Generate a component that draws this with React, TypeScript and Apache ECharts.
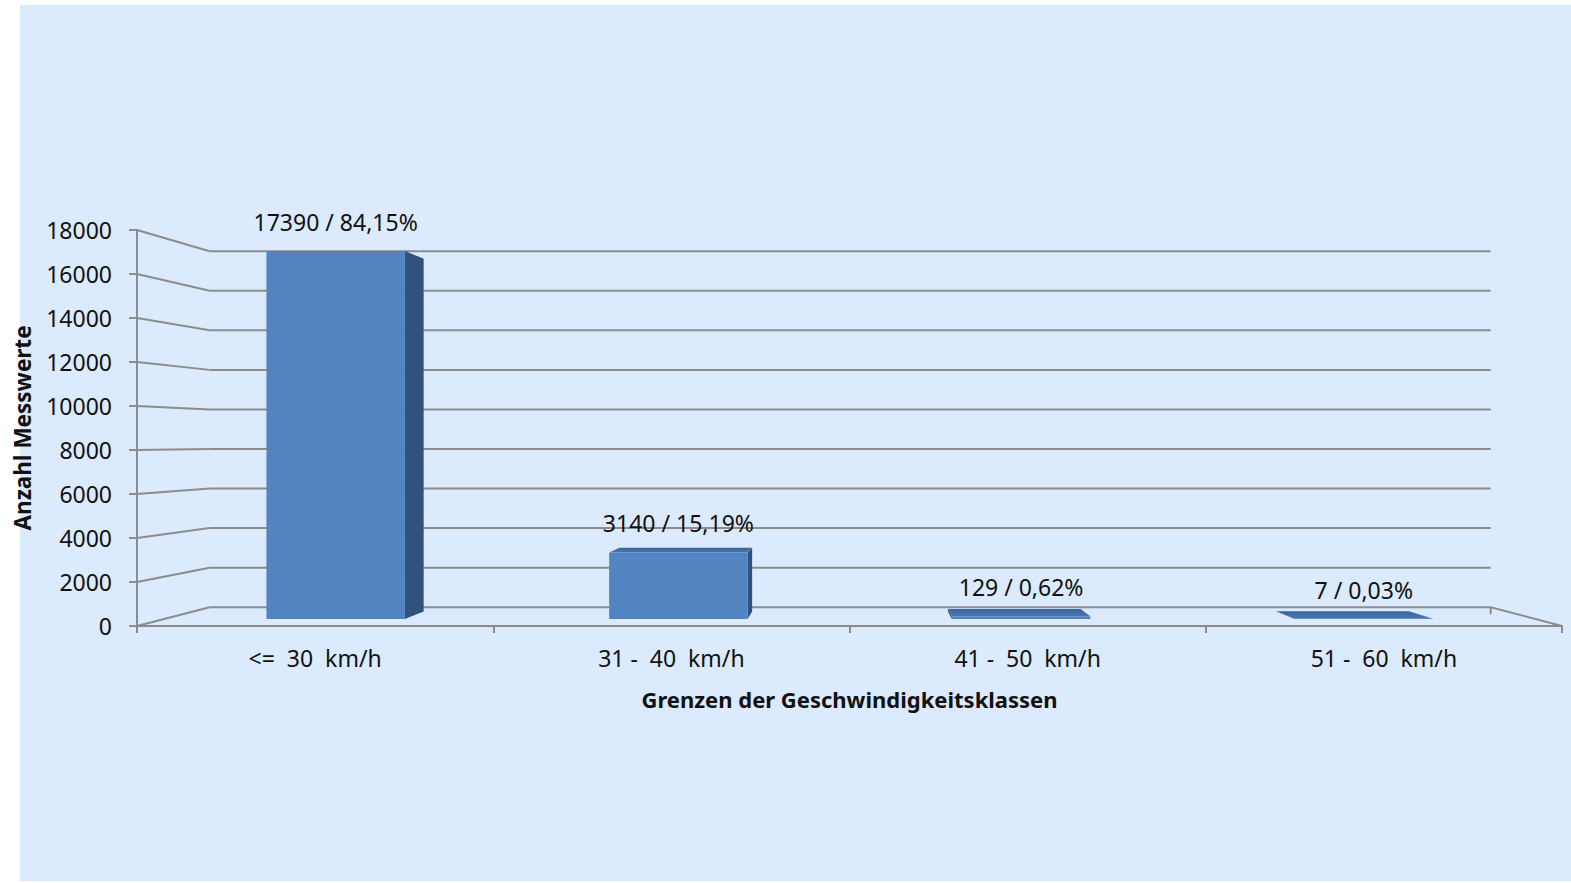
import React, { useEffect, useRef } from "react";
import * as echarts from "echarts";

// ---------- data ----------
const categories = ["<=  30  km/h", "31 -  40  km/h", "41 -  50  km/h", "51 -  60  km/h"];
const counts = [17390, 3140, 129, 7];
const percents = ["84,15%", "15,19%", "0,62%", "0,03%"];
const yTickValues = [0, 2000, 4000, 6000, 8000, 10000, 12000, 14000, 16000, 18000];
const yAxisName = "Anzahl Messwerte";
const xAxisName = "Grenzen der Geschwindigkeitsklassen";

// ---------- style / projection constants ----------
const FONT = "'Noto Sans', 'Liberation Sans', sans-serif";
const GRAY = "#8c8c8c";
const TEXT = "#111111";
const VP = [856, 440];
const K_WALL = 0.899;
const K_BAR_FRONT = 0.962;
const K_BAR_BACK = 0.922;
const BAR_FRACTION = 0.404;

const project = (p: number[], k: number) => [VP[0] + (p[0] - VP[0]) * k, VP[1] + (p[1] - VP[1]) * k];

export default function App() {
  const ref = useRef<HTMLDivElement>(null);

  useEffect(() => {
    if (!ref.current) return;
    const chart = echarts.init(ref.current, undefined, { renderer: "svg" });

    const wallRender = (params: any, api: any) => {
      const cs = params.coordSys;
      const v = api.value(1);
      const fy = api.coord([0, v])[1];
      const frontL = [cs.x, fy];
      const frontR = [cs.x + cs.width, fy];
      const backL = project(frontL, K_WALL);
      const backR = project(frontR, K_WALL);
      const ls = { stroke: GRAY, lineWidth: 2 };
      const children: any[] = [
        { type: "line", shape: { x1: backL[0], y1: backL[1], x2: backR[0], y2: backR[1] }, style: ls },
        { type: "line", shape: { x1: frontL[0], y1: frontL[1], x2: backL[0], y2: backL[1] }, style: ls },
      ];
      if (v === 0) {
        children.push({ type: "line", shape: { x1: backR[0], y1: backR[1], x2: frontR[0], y2: frontR[1] }, style: ls });
        children.push({ type: "line", shape: { x1: backR[0], y1: backR[1], x2: backR[0], y2: backR[1] + 7 }, style: ls });
      }
      return { type: "group", children };
    };

    const barRender = (params: any, api: any) => {
      const idx = api.value(0);
      const v = api.value(1);
      const top = api.coord([idx, v]);
      const base = api.coord([idx, 0]);
      const w = api.size([1, 0])[0] * BAR_FRACTION;
      const x0 = top[0] - w / 2;
      const x1 = top[0] + w / 2;
      const yT = top[1];
      const yB = base[1];
      const fTL = project([x0, yT], K_BAR_FRONT);
      const fTR = project([x1, yT], K_BAR_FRONT);
      const fBL = project([x0, yB], K_BAR_FRONT);
      const fBR = project([x1, yB], K_BAR_FRONT);
      const bTL = project([x0, yT], K_BAR_BACK);
      const bTR = project([x1, yT], K_BAR_BACK);
      const bBL = project([x0, yB], K_BAR_BACK);
      const bBR = project([x1, yB], K_BAR_BACK);
      const children: any[] = [];
      if (fTR[0] < VP[0]) {
        children.push({ type: "polygon", shape: { points: [fTR, bTR, bBR, fBR] }, style: { fill: "#31527d" } });
      } else if (fTL[0] > VP[0]) {
        children.push({ type: "polygon", shape: { points: [fTL, bTL, bBL, fBL] }, style: { fill: "#31527d" } });
      }
      if (fTL[1] > VP[1]) {
        children.push({
          type: "polygon",
          shape: { points: [fTL, fTR, bTR, bTL] },
          style: {
            fill: new echarts.graphic.LinearGradient(0, 0, 0, 1, [
              { offset: 0, color: "#3a659c" },
              { offset: 1, color: "#4a78b2" },
            ]),
          },
        });
      }
      children.push({
        type: "polygon",
        shape: { points: [fTL, fTR, fBR, fBL] },
        style: { fill: "#5184c1" },
      });
      const i = params.dataIndex;
      children.push({
        type: "text",
        style: {
          text: `${counts[i]} / ${percents[i]}`,
          x: (fTL[0] + fTR[0]) / 2,
          y: fTL[1] - 29,
          align: "center",
          verticalAlign: "middle",
          fontSize: 23,
          fontFamily: FONT,
          fill: TEXT,
        },
      });
      return { type: "group", children };
    };

    chart.setOption({
      animation: false,
      backgroundColor: "transparent",
      textStyle: { fontFamily: FONT },
      grid: { left: 137, top: 230, width: 1425, height: 396, containLabel: false },
      xAxis: {
        type: "category",
        data: categories,
        boundaryGap: true,
        axisLine: { show: true, lineStyle: { color: GRAY, width: 2 } },
        axisTick: { show: true, length: 7, interval: 0, lineStyle: { color: GRAY, width: 2 } },
        axisLabel: { interval: 0, margin: 20, fontSize: 23, color: TEXT, fontFamily: FONT },
        splitLine: { show: false },
        name: xAxisName,
        nameLocation: "middle",
        nameGap: 73,
        nameTextStyle: { fontSize: 22, fontWeight: "bold", color: TEXT, fontFamily: FONT, verticalAlign: "middle" },
      },
      yAxis: {
        type: "value",
        min: 0,
        max: 18000,
        interval: 2000,
        axisLine: { show: true, lineStyle: { color: GRAY, width: 2 } },
        axisTick: { show: true, length: 8, lineStyle: { color: GRAY, width: 2 } },
        axisLabel: { margin: 25, fontSize: 23, color: TEXT, fontFamily: FONT, formatter: (v: number) => String(v) },
        splitLine: { show: false },
        name: yAxisName,
        nameLocation: "middle",
        nameGap: 115,
        nameRotate: 90,
        nameTextStyle: { fontSize: 22.5, fontWeight: "bold", color: TEXT, fontFamily: FONT, verticalAlign: "middle" },
      },
      series: [
        {
          type: "custom",
          silent: true,
          coordinateSystem: "cartesian2d",
          encode: { x: 0, y: 1 },
          data: yTickValues.map((v) => [0, v]),
          renderItem: wallRender,
          z: 1,
        },
        {
          type: "custom",
          silent: true,
          coordinateSystem: "cartesian2d",
          encode: { x: 0, y: 1 },
          data: counts.map((v, i) => [i, v]),
          renderItem: barRender,
          z: 3,
        },
      ],
    });

    return () => chart.dispose();
  }, []);

  return (
    <div style={{ position: "fixed", left: 0, top: 0, width: 1571, height: 883, background: "#ffffff" }}>
      <div style={{ position: "absolute", left: 20, top: 5, width: 1551, height: 876, background: "#dbeafc" }} />
      <div ref={ref} style={{ position: "absolute", left: 0, top: 0, width: 1571, height: 883 }} />
    </div>
  );
}
